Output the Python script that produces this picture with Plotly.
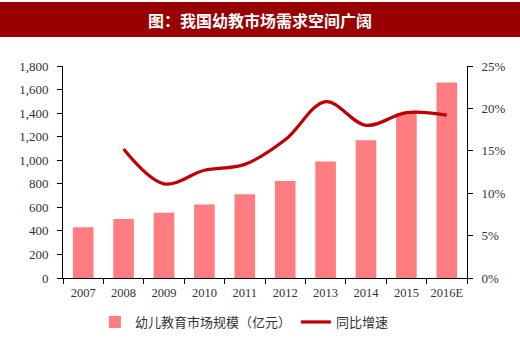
import plotly.graph_objects as go

years = ["2007", "2008", "2009", "2010", "2011", "2012", "2013", "2014", "2015", "2016E"]
market_size = [430, 500, 555, 623, 711, 823, 990, 1170, 1400, 1660]
growth_years = ["2008", "2009", "2010", "2011", "2012", "2013", "2014", "2015", "2016E"]
growth = [0.152, 0.111, 0.127, 0.134, 0.163, 0.208, 0.180, 0.195, 0.192]

W, H = 520, 338
serif = "Liberation Serif, Times New Roman, serif"
cjk = "Noto Sans CJK SC, sans-serif"
tickfont = dict(family=serif, size=13, color="#333333")

fig = go.Figure()
fig.add_trace(go.Bar(
    x=years, y=market_size, name="幼儿教育市场规模（亿元）",
    marker=dict(color="#FF7C80", line=dict(width=0)),
))
fig.add_trace(go.Scatter(
    x=growth_years, y=growth, name="同比增速", yaxis="y2", mode="lines",
    line=dict(color="#C00000", width=3.2, shape="spline", smoothing=1.0),
))

fig.update_layout(
    width=W, height=H,
    margin=dict(l=0, r=0, t=0, b=0, autoexpand=False),
    paper_bgcolor="white", plot_bgcolor="white",
    bargap=0.49,
    showlegend=True,
    legend=dict(orientation="h", x=0.47, xanchor="center", y=(H - 322) / H, yanchor="middle",
                font=dict(family=cjk, size=13, color="#333333"), itemwidth=30,
                bgcolor="rgba(0,0,0,0)"),
    xaxis=dict(domain=[63 / W, 467 / W], type="category", showline=True, linecolor="black",
               linewidth=1, ticks="outside", tickson="boundaries", ticklen=5, tickcolor="black",
               tickangle=0, ticklabelstandoff=3,
               tickfont=dict(family=serif, size=12.5, color="#333333"),
               showgrid=False, automargin=False),
    yaxis=dict(domain=[(H - 278) / H, (H - 66) / H], range=[0, 1800], dtick=200, tickformat=",",
               showline=True, linecolor="black", linewidth=1, ticks="outside", ticklen=5,
               tickcolor="black", showgrid=False, zeroline=False, automargin=False,
               ticklabelstandoff=6, tickfont=tickfont),
    yaxis2=dict(overlaying="y", side="right", anchor="x", range=[0, 0.25], dtick=0.05,
                tickformat=".0%", showline=True, linecolor="black", linewidth=1,
                ticks="outside", ticklen=5, tickcolor="black", showgrid=False, zeroline=False,
                automargin=False, ticklabelstandoff=6, tickfont=tickfont),
    shapes=[dict(type="rect", xref="paper", yref="paper", x0=0, x1=1,
                 y0=1 - 37 / H, y1=1 - 2 / H, fillcolor="#990000", line=dict(width=0), layer="below")],
    annotations=[dict(text="<b>图：我国幼教市场需求空间广阔</b>", xref="paper", yref="paper",
                      x=0.5, y=1 - 20 / H, xanchor="center", yanchor="middle", showarrow=False,
                      font=dict(family=cjk, size=16, color="white"))],
)

fig.write_html("out.html")
